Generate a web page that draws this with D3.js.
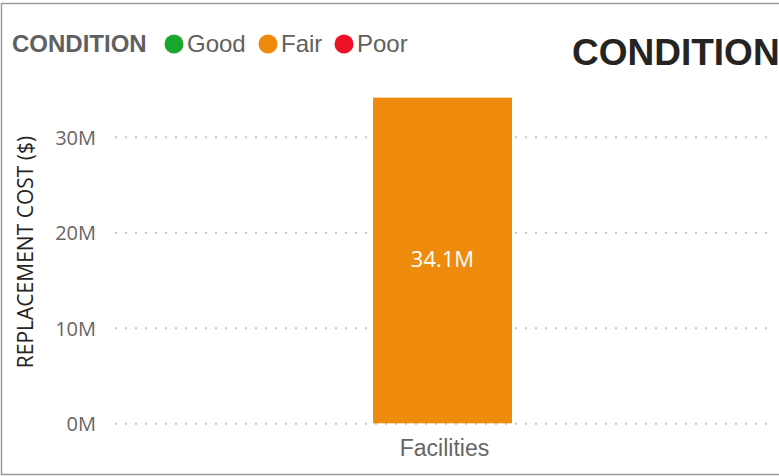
<!DOCTYPE html>
<html>
<head>
<meta charset="utf-8">
<script src="https://cdn.jsdelivr.net/npm/d3@7"></script>
<style>
  body { margin: 0; background: #fff; overflow: hidden; }
  svg { display: block; }
</style>
</head>
<body>
<div class="chart"></div>
<script>
// ------------------------------------------------------
const width = 779;
const height = 476;
const categories = [ 'Facilities' ];
const fairValues = [ 34.1 ];
const yTicks = [ 0, 10, 20, 30 ];
const legendLabels = [ 'Good', 'Fair', 'Poor' ];
const legendColors = [ '#16A72C', '#EE8B0D', '#EC1125' ];
// ------------------------------------------------------
const svg = d3.select( '.chart' )
    .append( 'svg' )
    .attr( 'width', width )
    .attr( 'height', height );

// frame
svg.append( 'rect' )
    .attr( 'x', 1.5 ).attr( 'y', 3.5 )
    .attr( 'width', 820 ).attr( 'height', 471 )
    .attr( 'fill', 'none' )
    .attr( 'stroke', '#9a9a9a' )
    .attr( 'stroke-width', 1.5 );
// ------------------------------------------------------
const x = d3.scaleBand()
    .domain( categories )
    .range( [ 115, 770 ] )
    .padding( 0.65 );

const y = d3.scaleLinear()
    .domain( [ 0, 35 ] )
    .range( [ 423.3, 423.3 - 35 * 9.55 ] );
// ------------------------------------------------------
// gridlines + tick labels
const yAxis = svg.append( 'g' )
    .attr( 'transform', 'translate(115,0)' )
    .call( d3.axisLeft( y )
        .tickValues( yTicks )
        .tickSize( -655 )
        .tickPadding( 19 )
        .tickFormat( d => d + 'M' ) );
yAxis.select( '.domain' ).remove();
yAxis.selectAll( '.tick line' )
    .attr( 'stroke', '#c4c4c4' )
    .attr( 'stroke-width', 2 )
    .attr( 'stroke-dasharray', '2,8' );
yAxis.selectAll( '.tick text' )
    .attr( 'fill', '#666' )
    .attr( 'font-family', 'Open Sans, sans-serif' )
    .attr( 'font-size', '20px' )
    .attr( 'dy', '0.36em' );
// ------------------------------------------------------
// bars
svg.selectAll( '.bar' )
    .data( categories )
    .enter()
    .append( 'rect' )
    .attr( 'class', 'bar' )
    .attr( 'x', d => x( d ) )
    .attr( 'width', x.bandwidth() )
    .attr( 'y', ( d, i ) => y( fairValues[i] ) )
    .attr( 'height', ( d, i ) => y( 0 ) - y( fairValues[i] ) )
    .attr( 'fill', legendColors[1] );

svg.selectAll( '.bar-label' )
    .data( categories )
    .enter()
    .append( 'text' )
    .attr( 'x', d => x( d ) + x.bandwidth() / 2 )
    .attr( 'y', ( d, i ) => y( fairValues[i] / 2 ) + 7 )
    .attr( 'text-anchor', 'middle' )
    .attr( 'fill', '#fff' )
    .attr( 'font-family', 'Open Sans, sans-serif' )
    .attr( 'font-size', '22px' )
    .text( ( d, i ) => fairValues[i] + 'M' );
// ------------------------------------------------------
// x labels
svg.selectAll( '.x-label' )
    .data( categories )
    .enter()
    .append( 'text' )
    .attr( 'x', d => x( d ) + x.bandwidth() / 2 + 2 )
    .attr( 'y', 456 )
    .attr( 'text-anchor', 'middle' )
    .attr( 'fill', '#666' )
    .attr( 'font-family', 'Liberation Sans, Arial, sans-serif' )
    .attr( 'font-size', '23px' )
    .text( d => d );
// ------------------------------------------------------
// y axis title
svg.append( 'text' )
    .attr( 'transform', 'translate(33,252) rotate(-90)' )
    .attr( 'text-anchor', 'middle' )
    .attr( 'fill', '#252423' )
    .attr( 'font-family', 'Open Sans, sans-serif' )
    .attr( 'font-size', '21px' )
    .text( 'REPLACEMENT COST ($)' );
// ------------------------------------------------------
// legend
svg.append( 'text' )
    .attr( 'x', 12 ).attr( 'y', 52 )
    .attr( 'fill', '#606060' )
    .attr( 'font-family', 'Liberation Sans, Arial, sans-serif' )
    .attr( 'font-weight', 'bold' )
    .attr( 'font-size', '24px' )
    .text( 'CONDITION' );

const legendX = [ 174, 268, 344 ];
const legend = svg.selectAll( '.legend-item' )
    .data( legendLabels )
    .enter()
    .append( 'g' )
    .attr( 'transform', ( d, i ) => 'translate(' + legendX[i] + ',44)' );
legend.append( 'circle' )
    .attr( 'r', 9.5 )
    .attr( 'fill', ( d, i ) => legendColors[i] );
legend.append( 'text' )
    .attr( 'x', 13 )
    .attr( 'y', 8 )
    .attr( 'fill', '#606060' )
    .attr( 'font-family', 'Liberation Sans, Arial, sans-serif' )
    .attr( 'font-size', '24px' )
    .text( d => d );
// ------------------------------------------------------
// title
svg.append( 'text' )
    .attr( 'x', 572 ).attr( 'y', 65 )
    .attr( 'fill', '#252423' )
    .attr( 'font-family', 'Liberation Sans, Arial, sans-serif' )
    .attr( 'font-weight', 'bold' )
    .attr( 'font-size', '37px' )
    .text( 'CONDITION' );
</script>
</body>
</html>
